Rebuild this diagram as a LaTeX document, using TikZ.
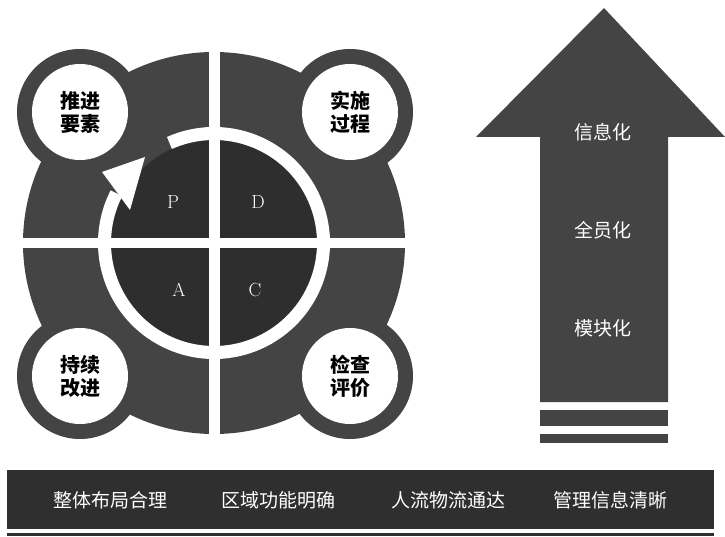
\documentclass[tikz,border=0pt]{standalone}
\usepackage{fontspec}
\usepackage{xcolor}
\newfontfamily\cjk{Noto Sans CJK SC}

\definecolor{ringgray}{HTML}{444444}
\definecolor{coregray}{HTML}{2E2E2E}
\definecolor{bargray}{HTML}{2F2F2F}

\tikzset{
  stepcircle/.style={circle, fill=white, minimum size=96, inner sep=0pt, align=center,
    font=\cjk\bfseries\fontsize{20}{23}\selectfont},
  pdca/.style={text=white, font=\fontsize{19}{19}\selectfont},
  arrowtext/.style={text=white, font=\cjk\fontsize{19}{19}\selectfont},
  bartext/.style={text=white, font=\cjk\fontsize{19}{19}\selectfont},
}

\begin{document}
\begin{tikzpicture}[x=1pt,y=1pt]
\useasboundingbox (0,0) rectangle (725,536);

% wheel
\fill[ringgray] (214,293) circle (191);
\fill[ringgray] (80,424) circle (63);
\fill[ringgray] (350,424) circle (63);
\fill[ringgray] (80,160) circle (63);
\fill[ringgray] (350,160) circle (63);
\fill[coregray] (214,293) circle (103);

% white ring with arrow head
\draw[white, line width=13] (214,293) ++(114:109.5) arc[start angle=114, end angle=-207, radius=109.5];
\fill[white] (145,379) -- (102,364) -- (130,326) -- cycle;

% cross gaps
\fill[white] (208.5,90) rectangle (219.5,496);
\fill[white] (10,288) rectangle (418,298);

\node[stepcircle] (push) at (80,424) {推进\\要素};
\node[stepcircle] (run) at (350,424) {实施\\过程};
\node[stepcircle] (keep) at (80,160) {持续\\改进};
\node[stepcircle] (check) at (350,160) {检查\\评价};

\node[pdca] (p) at (173,334) {P};
\node[pdca] (d) at (258,334) {D};
\node[pdca] (a) at (179,246) {A};
\node[pdca] (c) at (255,246) {C};

% up arrow
\fill[ringgray] (604,528) -- (725,399) -- (668,399) -- (668,134) -- (540,134) -- (540,399) -- (476,399) -- cycle;
\fill[ringgray] (540,110) rectangle (668,126);
\fill[ringgray] (540,93) rectangle (668,102);
\node[arrowtext] (info) at (603,404) {信息化};
\node[arrowtext] (staff) at (603,306) {全员化};
\node[arrowtext] (module) at (603,208) {模块化};

% bottom bar
\fill[bargray] (7,7) rectangle (714,66);
\fill[bargray] (7,0) rectangle (714,3);
\node[bartext] (layout) at (110,36) {整体布局合理};
\node[bartext] (zone) at (278,36) {区域功能明确};
\node[bartext] (flow) at (448,36) {人流物流通达};
\node[bartext] (manage) at (610,36) {管理信息清晰};

\end{tikzpicture}
\end{document}
